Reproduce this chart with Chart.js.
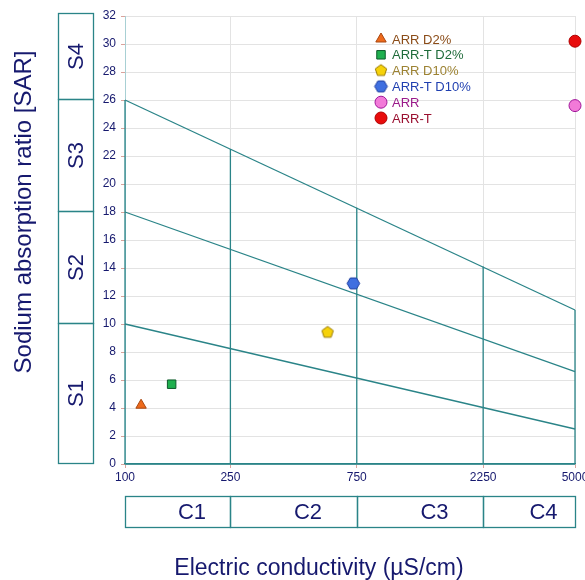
<!DOCTYPE html>
<html><head><meta charset="utf-8">
<script src="https://cdn.jsdelivr.net/npm/chart.js@4/dist/chart.umd.min.js"></script>
<style>html,body{margin:0;padding:0;background:#fff;overflow:hidden}#wrap{width:585px;height:580px;position:relative}</style>
</head><body><div id="wrap"><canvas id="c" width="585" height="580"></canvas></div>
<script>
// ---------- data ----------
const xTicks = [100, 250, 750, 2250, 5000];
const yTickStep = 2;
const yMin = 0, yMax = 32;

const salinityBounds = [100, 250, 750, 2250, 5000];
const salinityClasses = ['C1', 'C2', 'C3', 'C4'];
const sodiumBounds = [0, 10, 18, 26, 32];
const sodiumClasses = ['S1', 'S2', 'S3', 'S4'];

// classification boundary lines [EC, SAR]
const lineHigh = [[100, 26], [5000, 11]];
const lineMid = [[100, 18], [5000, 6.6]];
const lineLow = [[100, 10], [5000, 2.5]];
const dividerEC = [250, 750, 2250, 5000];
const dividerTopSAR = [22.5, 18.3, 14.1, 11];
const leftEdge = [[100, 0], [100, 26]];
const baseLine = [[100, 0], [5000, 0]];

const sampleNames = ['ARR D2%', 'ARR-T D2%', 'ARR D10%', 'ARR-T D10%', 'ARR', 'ARR-T'];
const sampleEC = [115, 150, 582, 728, 5000, 5000];
const sampleSAR = [4.2, 5.7, 9.4, 12.9, 25.6, 30.2];

const xTitle = 'Electric conductivity (µS/cm)';
const yTitle = 'Sodium absorption ratio [SAR]';

// ---------- styles ----------
const TEAL = '#2a8488';
const NAVY = '#16196e';
const FONT = '"Liberation Sans", Arial, sans-serif';

function polyCanvas(n, r, fill, stroke, startAngle) {
  const s = Math.ceil(2 * r + 4);
  const c = document.createElement('canvas');
  c.width = c.height = s;
  const g = c.getContext('2d');
  g.beginPath();
  for (let i = 0; i < n; i++) {
    const a = startAngle + i * 2 * Math.PI / n;
    const px = s / 2 + r * Math.cos(a), py = s / 2 + r * Math.sin(a);
    if (i === 0) g.moveTo(px, py); else g.lineTo(px, py);
  }
  g.closePath();
  g.fillStyle = fill; g.fill();
  g.lineWidth = 1; g.strokeStyle = stroke; g.stroke();
  return c;
}

const markerStyles = [
  { pointStyle: 'triangle', radius: 6, bg: '#ee6a1c', border: '#a8460e', text: '#8a4b17' },
  { pointStyle: 'rect', radius: 6, bg: '#1fb04f', border: '#0d5a2a', text: '#1f6b3a' },
  { pointStyle: polyCanvas(5, 6, '#f6d20a', '#9a7a00', -Math.PI / 2), radius: 6, bg: '#f6d20a', border: '#9a7a00', text: '#9c8232' },
  { pointStyle: polyCanvas(6, 6.3, '#3f6fe0', '#1f3fa0', 0), radius: 6, bg: '#3f6fe0', border: '#1f3fa0', text: '#1f3fb0' },
  { pointStyle: 'circle', radius: 6, bg: '#f27ad8', border: '#a0189a', text: '#9a1a8a' },
  { pointStyle: 'circle', radius: 6, bg: '#e80c0c', border: '#b00000', text: '#9a1030' }
];

// ---------- datasets ----------
function lineDs(pts) {
  return {
    type: 'scatter', showLine: true, isBoundary: true,
    data: pts.map(p => ({ x: p[0], y: p[1] })),
    borderColor: TEAL, borderWidth: 1.3, pointRadius: 0, fill: false,
    order: 2, clip: false
  };
}
const datasets = [
  lineDs(lineHigh), lineDs(lineMid), lineDs(lineLow), lineDs(leftEdge), lineDs(baseLine)
];
dividerEC.forEach((ec, i) => datasets.push(lineDs([[ec, 0], [ec, dividerTopSAR[i]]])));
sampleNames.forEach((name, i) => {
  const st = markerStyles[i];
  datasets.push({
    type: 'scatter', label: name, isSample: true,
    data: [{ x: sampleEC[i], y: sampleSAR[i] }],
    pointStyle: st.pointStyle, pointRadius: st.radius,
    backgroundColor: st.bg, borderColor: st.border, borderWidth: 1,
    order: 0, clip: false, legendIndex: i
  });
});

// ---------- overlay plugin (class boxes, titles, legend) ----------
function drawMarker(ctx, st, x, y) {
  ctx.save();
  ctx.fillStyle = st.bg; ctx.strokeStyle = st.border; ctx.lineWidth = 1;
  if (typeof st.pointStyle !== 'string') {
    ctx.drawImage(st.pointStyle, x - st.pointStyle.width / 2, y - st.pointStyle.height / 2);
  } else if (Chart.helpers && Chart.helpers.drawPoint) {
    Chart.helpers.drawPoint(ctx, { pointStyle: st.pointStyle, radius: st.radius, rotation: 0, borderWidth: 1 }, x, y);
  } else {
    ctx.beginPath(); ctx.arc(x, y, st.radius, 0, Math.PI * 2); ctx.fill(); ctx.stroke();
  }
  ctx.restore();
}

const overlay = {
  id: 'overlay',
  afterDraw(chart) {
    const { ctx } = chart;
    const xs = chart.scales.x, ys = chart.scales.y;
    ctx.save();
    ctx.strokeStyle = TEAL; ctx.lineWidth = 1.3;
    ctx.fillStyle = NAVY;
    ctx.textAlign = 'center'; ctx.textBaseline = 'middle';
    ctx.font = '22px ' + FONT;

    // sodium (S) class boxes on the left
    const bx0 = 58.5, bx1 = 93.5;
    for (let i = 0; i < sodiumClasses.length; i++) {
      const yb = Math.round(ys.getPixelForValue(sodiumBounds[i])) - 0.5;
      let yt = Math.round(ys.getPixelForValue(sodiumBounds[i + 1])) - 0.5;
      if (i === sodiumClasses.length - 1) yt -= 2;
      ctx.strokeRect(bx0, yt, bx1 - bx0, yb - yt);
      ctx.save();
      ctx.translate((bx0 + bx1) / 2 + 1, (yt + yb) / 2);
      ctx.rotate(-Math.PI / 2);
      ctx.fillText(sodiumClasses[i], 0, 0);
      ctx.restore();
    }

    // salinity (C) class boxes below
    const by0 = 496.5, by1 = 527.5;
    for (let i = 0; i < salinityClasses.length; i++) {
      const xl = Math.round(xs.getPixelForValue(salinityBounds[i])) + 0.5;
      const xr = Math.round(xs.getPixelForValue(salinityBounds[i + 1])) + 0.5;
      ctx.strokeRect(xl, by0, xr - xl, by1 - by0);
      ctx.fillText(salinityClasses[i], (xl + xr) / 2 + 14, (by0 + by1) / 2 + 1);
    }

    // axis titles
    ctx.font = '23px ' + FONT;
    ctx.fillText(xTitle, 319, 569);
    ctx.save();
    ctx.translate(24, 212);
    ctx.rotate(-Math.PI / 2);
    ctx.font = '24px ' + FONT;
    ctx.fillText(yTitle, 0, 0);
    ctx.restore();

    // legend
    ctx.font = '13px ' + FONT;
    ctx.textAlign = 'left';
    sampleNames.forEach((name, i) => {
      const yy = 39 + i * 15.8;
      drawMarker(ctx, markerStyles[i], 381, yy);
      ctx.fillStyle = markerStyles[i].text;
      ctx.fillText(name, 392, yy + 1);
    });
    ctx.restore();
  }
};

new Chart(document.getElementById('c'), {
  type: 'scatter',
  data: { datasets },
  plugins: [overlay],
  options: {
    responsive: false,
    animation: false,
    devicePixelRatio: 1,
    events: [],
    layout: { padding: { left: 95, right: 10, top: 16, bottom: 96 } },
    plugins: { legend: { display: false }, tooltip: { enabled: false } },
    scales: {
      x: {
        type: 'logarithmic', min: xTicks[0], max: xTicks[xTicks.length - 1],
        afterBuildTicks: s => { s.ticks = xTicks.map(v => ({ value: v })); },
        afterFit: s => { s.height = 20; s.paddingLeft = 0; s.paddingRight = 0; },
        ticks: { callback: v => String(v), color: NAVY, font: { family: FONT, size: 12 }, padding: 2, maxRotation: 0, autoSkip: false },
        grid: { color: '#e3e3e3', lineWidth: 1, tickLength: 4, tickColor: '#d9a39c' },
        border: { color: TEAL, width: 1.3 }
      },
      y: {
        type: 'linear', min: yMin, max: yMax,
        ticks: { stepSize: yTickStep, color: NAVY, font: { family: FONT, size: 12 }, padding: 5 },
        afterFit: s => { s.width = 30; },
        grid: { color: '#e3e3e3', lineWidth: 1, tickLength: 4, tickColor: '#d9a39c' },
        border: { color: '#a8d0d4', width: 1 }
      }
    }
  }
});
</script>
</body></html>
